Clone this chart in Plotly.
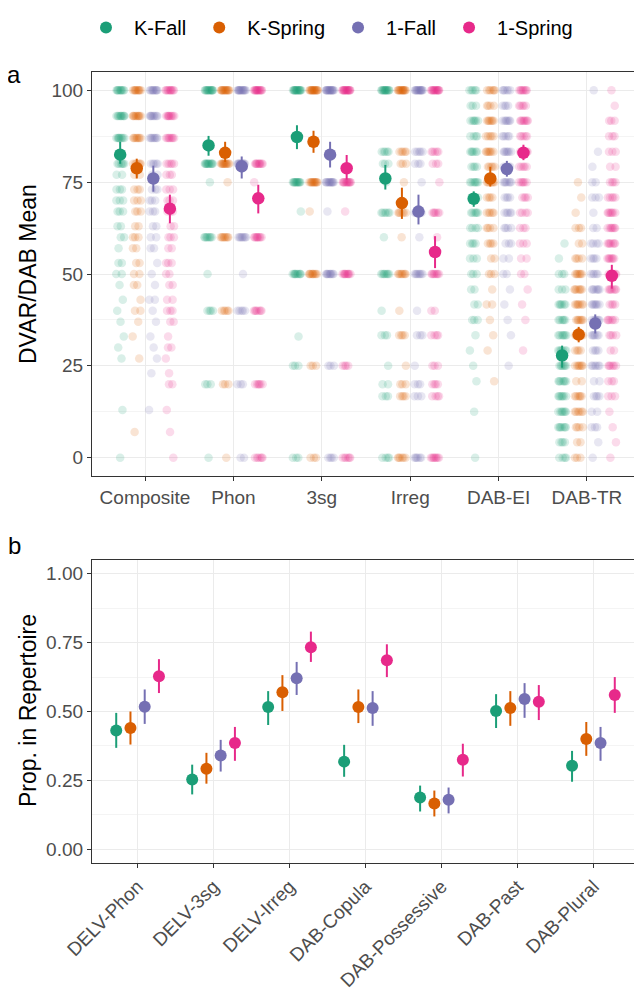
import plotly.graph_objects as go

# page is shown with an 8px body margin, so the figure is 8px smaller and all
# reference pixel positions are shifted by 8px
OFF = 8
W, H = 642 - OFF, 999 - OFF

groups = ["K-Fall", "K-Spring", "1-Fall", "1-Spring"]
colors = ["#1B9E77", "#D95F02", "#7570B3", "#E7298A"]

# ---------------- Panel a : summary (means and intervals) ----------------
measures_a = ["Composite", "Phon", "3sg", "Irreg", "DAB-EI", "DAB-TR"]
mean_a = {
    "K-Fall":   [82.5, 85.0, 87.3, 76.0, 70.5, 27.8],
    "K-Spring": [78.8, 83.0, 86.0, 69.3, 76.0, 33.5],
    "1-Fall":   [76.0, 79.3, 82.5, 67.0, 78.6, 36.5],
    "1-Spring": [67.8, 70.6, 78.8, 56.0, 83.0, 49.5],
}
lo_a = {
    "K-Fall":   [80.0, 82.2, 84.0, 73.0, 68.3, 24.5],
    "K-Spring": [76.0, 80.5, 83.0, 65.0, 73.8, 31.4],
    "1-Fall":   [72.4, 76.0, 79.0, 63.5, 76.5, 33.8],
    "1-Spring": [63.8, 66.5, 75.7, 51.6, 81.0, 46.0],
}
hi_a = {
    "K-Fall":   [86.0, 87.6, 90.5, 79.7, 72.5, 30.5],
    "K-Spring": [81.4, 86.0, 89.0, 73.5, 79.2, 35.6],
    "1-Fall":   [79.5, 82.0, 86.0, 71.6, 80.8, 39.0],
    "1-Spring": [71.6, 74.3, 82.4, 60.3, 85.2, 52.5],
}

# ---------------- Panel a : raw scores (score levels and counts per group) ----------------
composite_levels = [100, 93, 87, 80, 77, 73, 70, 67, 63, 60, 57, 53, 50, 47, 43, 40, 37, 33, 30, 27, 23, 20, 13, 7, 0]
composite_counts = {
    "K-Fall":   [10, 10, 9, 6, 2, 3, 3, 3, 2, 2, 1, 2, 2, 1, 1, 1, 1, 1, 1, 1, 0, 0, 1, 0, 1],
    "K-Spring": [10, 10, 8, 6, 2, 3, 3, 3, 2, 3, 2, 2, 2, 2, 1, 2, 1, 1, 0, 1, 0, 0, 0, 1, 0],
    "1-Fall":   [10, 9, 8, 5, 2, 3, 3, 3, 2, 2, 2, 1, 1, 1, 2, 1, 1, 1, 1, 1, 1, 0, 1, 0, 0],
    "1-Spring": [10, 9, 8, 5, 3, 3, 3, 3, 2, 3, 2, 3, 2, 2, 2, 3, 2, 1, 2, 1, 1, 2, 1, 1, 1],
}
phon_levels = [100, 80, 75, 60, 50, 40, 20, 0]
phon_counts = {
    "K-Fall":   [14, 12, 1, 8, 1, 4, 3, 1],
    "K-Spring": [14, 12, 1, 8, 0, 5, 3, 1],
    "1-Fall":   [14, 12, 0, 8, 1, 5, 3, 2],
    "1-Spring": [14, 10, 1, 9, 0, 7, 6, 6],
}
sg3_levels = [100, 75, 67, 50, 33, 25, 0]
sg3_counts = {
    "K-Fall":   [16, 12, 1, 10, 1, 3, 3],
    "K-Spring": [16, 12, 1, 10, 0, 3, 3],
    "1-Fall":   [16, 12, 1, 10, 0, 3, 4],
    "1-Spring": [16, 12, 1, 10, 0, 4, 6],
}
irreg_levels = [100, 83.3, 80, 75, 66.7, 60, 50, 40, 33.3, 25, 20, 16.7, 0]
irreg_counts = {
    "K-Fall":   [14, 5, 3, 1, 6, 1, 8, 1, 3, 1, 2, 3, 4],
    "K-Spring": [14, 5, 3, 1, 6, 1, 8, 1, 4, 1, 3, 4, 6],
    "1-Fall":   [14, 5, 3, 1, 5, 1, 8, 1, 3, 1, 3, 3, 6],
    "1-Spring": [14, 5, 3, 1, 6, 1, 8, 2, 4, 3, 4, 4, 8],
}
dab_levels = [100, 95.8, 91.7, 87.5, 83.3, 79.2, 75, 70.8, 66.7, 62.5, 58.3, 54.2, 50,
              45.8, 41.7, 37.5, 33.3, 29.2, 25, 20.8, 16.7, 12.5, 8.3, 4.2, 0]
dabei_counts = {
    "K-Fall":   [5, 3, 6, 4, 6, 4, 7, 4, 6, 4, 4, 3, 3, 2, 2, 3, 1, 1, 1, 1, 0, 1, 0, 0, 1],
    "K-Spring": [6, 4, 7, 5, 7, 5, 7, 4, 5, 4, 4, 2, 3, 1, 2, 1, 1, 1, 0, 1, 0, 0, 0, 0, 0],
    "1-Fall":   [6, 4, 7, 5, 7, 5, 7, 4, 5, 4, 3, 2, 2, 1, 1, 1, 1, 0, 1, 0, 0, 0, 0, 0, 0],
    "1-Spring": [8, 5, 8, 5, 8, 5, 6, 4, 4, 3, 3, 2, 2, 1, 1, 1, 0, 1, 0, 0, 0, 0, 0, 0, 0],
}
dabtr_counts = {
    "K-Fall":   [0, 0, 0, 0, 0, 0, 0, 0, 0, 0, 1, 1, 3, 3, 6, 6, 7, 7, 7, 7, 7, 7, 7, 4, 4],
    "K-Spring": [0, 0, 0, 0, 0, 0, 1, 1, 1, 3, 2, 4, 7, 7, 7, 7, 7, 4, 7, 2, 6, 6, 4, 2, 3],
    "1-Fall":   [1, 0, 0, 0, 1, 1, 2, 3, 1, 2, 4, 4, 5, 7, 7, 7, 6, 4, 6, 2, 4, 2, 3, 1, 1],
    "1-Spring": [1, 1, 3, 3, 3, 2, 4, 5, 7, 7, 7, 7, 7, 7, 4, 6, 4, 2, 6, 3, 3, 1, 1, 1, 1],
}
raw_a = [
    (composite_levels, composite_counts),
    (phon_levels, phon_counts),
    (sg3_levels, sg3_counts),
    (irreg_levels, irreg_counts),
    (dab_levels, dabei_counts),
    (dab_levels, dabtr_counts),
]

# ---------------- Panel b ----------------
measures_b = ["DELV-Phon", "DELV-3sg", "DELV-Irreg", "DAB-Copula", "DAB-Possessive", "DAB-Past", "DAB-Plural"]
mean_b = {
    "K-Fall":   [0.431, 0.253, 0.516, 0.318, 0.188, 0.502, 0.303],
    "K-Spring": [0.440, 0.292, 0.570, 0.516, 0.166, 0.513, 0.400],
    "1-Fall":   [0.517, 0.340, 0.621, 0.513, 0.180, 0.545, 0.386],
    "1-Spring": [0.628, 0.386, 0.733, 0.686, 0.325, 0.535, 0.560],
}
lo_b = {
    "K-Fall":   [0.368, 0.199, 0.451, 0.263, 0.137, 0.440, 0.245],
    "K-Spring": [0.380, 0.238, 0.502, 0.458, 0.119, 0.448, 0.339],
    "1-Fall":   [0.455, 0.282, 0.560, 0.448, 0.130, 0.477, 0.321],
    "1-Spring": [0.567, 0.321, 0.680, 0.625, 0.264, 0.469, 0.495],
}
hi_b = {
    "K-Fall":   [0.495, 0.307, 0.574, 0.379, 0.231, 0.563, 0.357],
    "K-Spring": [0.500, 0.350, 0.632, 0.580, 0.213, 0.574, 0.462],
    "1-Fall":   [0.580, 0.397, 0.680, 0.574, 0.224, 0.603, 0.444],
    "1-Spring": [0.690, 0.444, 0.790, 0.744, 0.383, 0.596, 0.625],
}

# ---------------- styling / layout constants ----------------
FONT = "Liberation Sans, Arial, Helvetica, sans-serif"
dodge = [-0.28125, -0.09375, 0.09375, 0.28125]
jit = 0.05

fig = go.Figure()

# raw jittered points (panel a)
for gi, g in enumerate(groups):
    xs, ys = [], []
    for mi, (levels, counts) in enumerate(raw_a):
        for li, (lv, n) in enumerate(zip(levels, counts[g])):
            for k in range(n):
                frac = ((k + 1) * 0.6180339 + li * 0.37 + gi * 0.13 + mi * 0.29) % 1.0
                xs.append(mi + dodge[gi] + (2 * frac - 1) * jit)
                ys.append(lv)
    fig.add_trace(go.Scatter(
        x=xs, y=ys, mode="markers", xaxis="x", yaxis="y", showlegend=False,
        marker=dict(color=colors[gi], size=8.5, opacity=0.17, line=dict(width=0)),
        hoverinfo="skip"))

# means panel a
for gi, g in enumerate(groups):
    xs = [mi + dodge[gi] for mi in range(len(measures_a))]
    m = mean_a[g]
    fig.add_trace(go.Scatter(
        x=xs, y=m, mode="markers", xaxis="x", yaxis="y", showlegend=False,
        marker=dict(color=colors[gi], size=12.5, line=dict(width=0)),
        error_y=dict(type="data", symmetric=False,
                     array=[h - v for h, v in zip(hi_a[g], m)],
                     arrayminus=[v - l for l, v in zip(lo_a[g], m)],
                     color=colors[gi], thickness=2, width=0)))

# panel b
for gi, g in enumerate(groups):
    xs = [mi + dodge[gi] for mi in range(len(measures_b))]
    m = mean_b[g]
    fig.add_trace(go.Scatter(
        x=xs, y=m, mode="markers", xaxis="x2", yaxis="y2", name=g, showlegend=True,
        marker=dict(color=colors[gi], size=12, line=dict(width=0)),
        error_y=dict(type="data", symmetric=False,
                     array=[h - v for h, v in zip(hi_b[g], m)],
                     arrayminus=[v - l for l, v in zip(lo_b[g], m)],
                     color=colors[gi], thickness=2, width=0)))


def px_x(a, b):
    return [(a - OFF) / W, (b - OFF) / W]


def px_y(top, bottom):
    return [1 - (bottom - OFF) / H, 1 - (top - OFF) / H]


def pt(x, y):
    return (x - OFF) / W, 1 - (y - OFF) / H


grid = "#EBEBEB"
minor_grid = "#F4F4F4"
axis_common = dict(
    showline=True, mirror=True, linecolor="#333333", linewidth=1.2,
    ticks="outside", ticklen=4, tickcolor="#333333", tickwidth=1,
    showgrid=True, gridcolor=grid, gridwidth=1.1, zeroline=False,
    tickfont=dict(family=FONT, size=19, color="#4D4D4D"),
    automargin=False, fixedrange=True,
)

ax_a, ay_a = pt(14, 75)
bx_b, by_b = pt(14, 545)
tx_a, ty_a = pt(28, 274)
tx_b, ty_b = pt(28, 711)

fig.update_layout(
    width=W, height=H,
    margin=dict(l=0, r=0, t=0, b=0),
    paper_bgcolor="white", plot_bgcolor="white",
    font=dict(family=FONT, color="black"),
    xaxis=dict(domain=px_x(92, 640), range=[-0.6, 5.6], anchor="y",
               tickmode="array", tickvals=list(range(len(measures_a))), ticktext=measures_a,
               **axis_common),
    yaxis=dict(domain=px_y(72, 476), range=[-5, 105], anchor="x",
               tickmode="array", tickvals=[0, 25, 50, 75, 100], ticktext=["0", "25", "50", "75", "100"],
               minor=dict(tickmode="array", tickvals=[12.5, 37.5, 62.5, 87.5], showgrid=True,
                          gridcolor=minor_grid, gridwidth=0.8, ticks=""),
               **axis_common),
    xaxis2=dict(domain=px_x(92, 639), range=[-0.6, 6.6], anchor="y2",
                tickmode="array", tickvals=list(range(len(measures_b))), ticktext=measures_b,
                tickangle=-45,
                **axis_common),
    yaxis2=dict(domain=px_y(560, 863), range=[-0.05, 1.05], anchor="x2",
                tickmode="array", tickvals=[0, 0.25, 0.5, 0.75, 1.0],
                ticktext=["0.00", "0.25", "0.50", "0.75", "1.00"],
                minor=dict(tickmode="array", tickvals=[0.125, 0.375, 0.625, 0.875], showgrid=True,
                           gridcolor=minor_grid, gridwidth=0.8, ticks=""),
                **axis_common),
    legend=dict(orientation="h", x=pt(328, 0)[0], xanchor="center", y=1.0, yanchor="top",
                font=dict(family=FONT, size=20, color="black"),
                itemwidth=46, itemsizing="constant", bgcolor="rgba(0,0,0,0)"),
    annotations=[
        dict(text="a", x=ax_a, y=ay_a, xref="paper", yref="paper", showarrow=False,
             font=dict(family=FONT, size=24, color="black"), xanchor="center", yanchor="middle"),
        dict(text="b", x=bx_b, y=by_b, xref="paper", yref="paper", showarrow=False,
             font=dict(family=FONT, size=24, color="black"), xanchor="center", yanchor="middle"),
        dict(text="DVAR/DAB Mean", x=tx_a, y=ty_a, xref="paper", yref="paper",
             showarrow=False, textangle=-90, font=dict(family=FONT, size=23, color="black"),
             xanchor="center", yanchor="middle"),
        dict(text="Prop. in Repertoire", x=tx_b, y=ty_b, xref="paper", yref="paper",
             showarrow=False, textangle=-90, font=dict(family=FONT, size=23, color="black"),
             xanchor="center", yanchor="middle"),
    ],
)

fig.write_html("out.html")
